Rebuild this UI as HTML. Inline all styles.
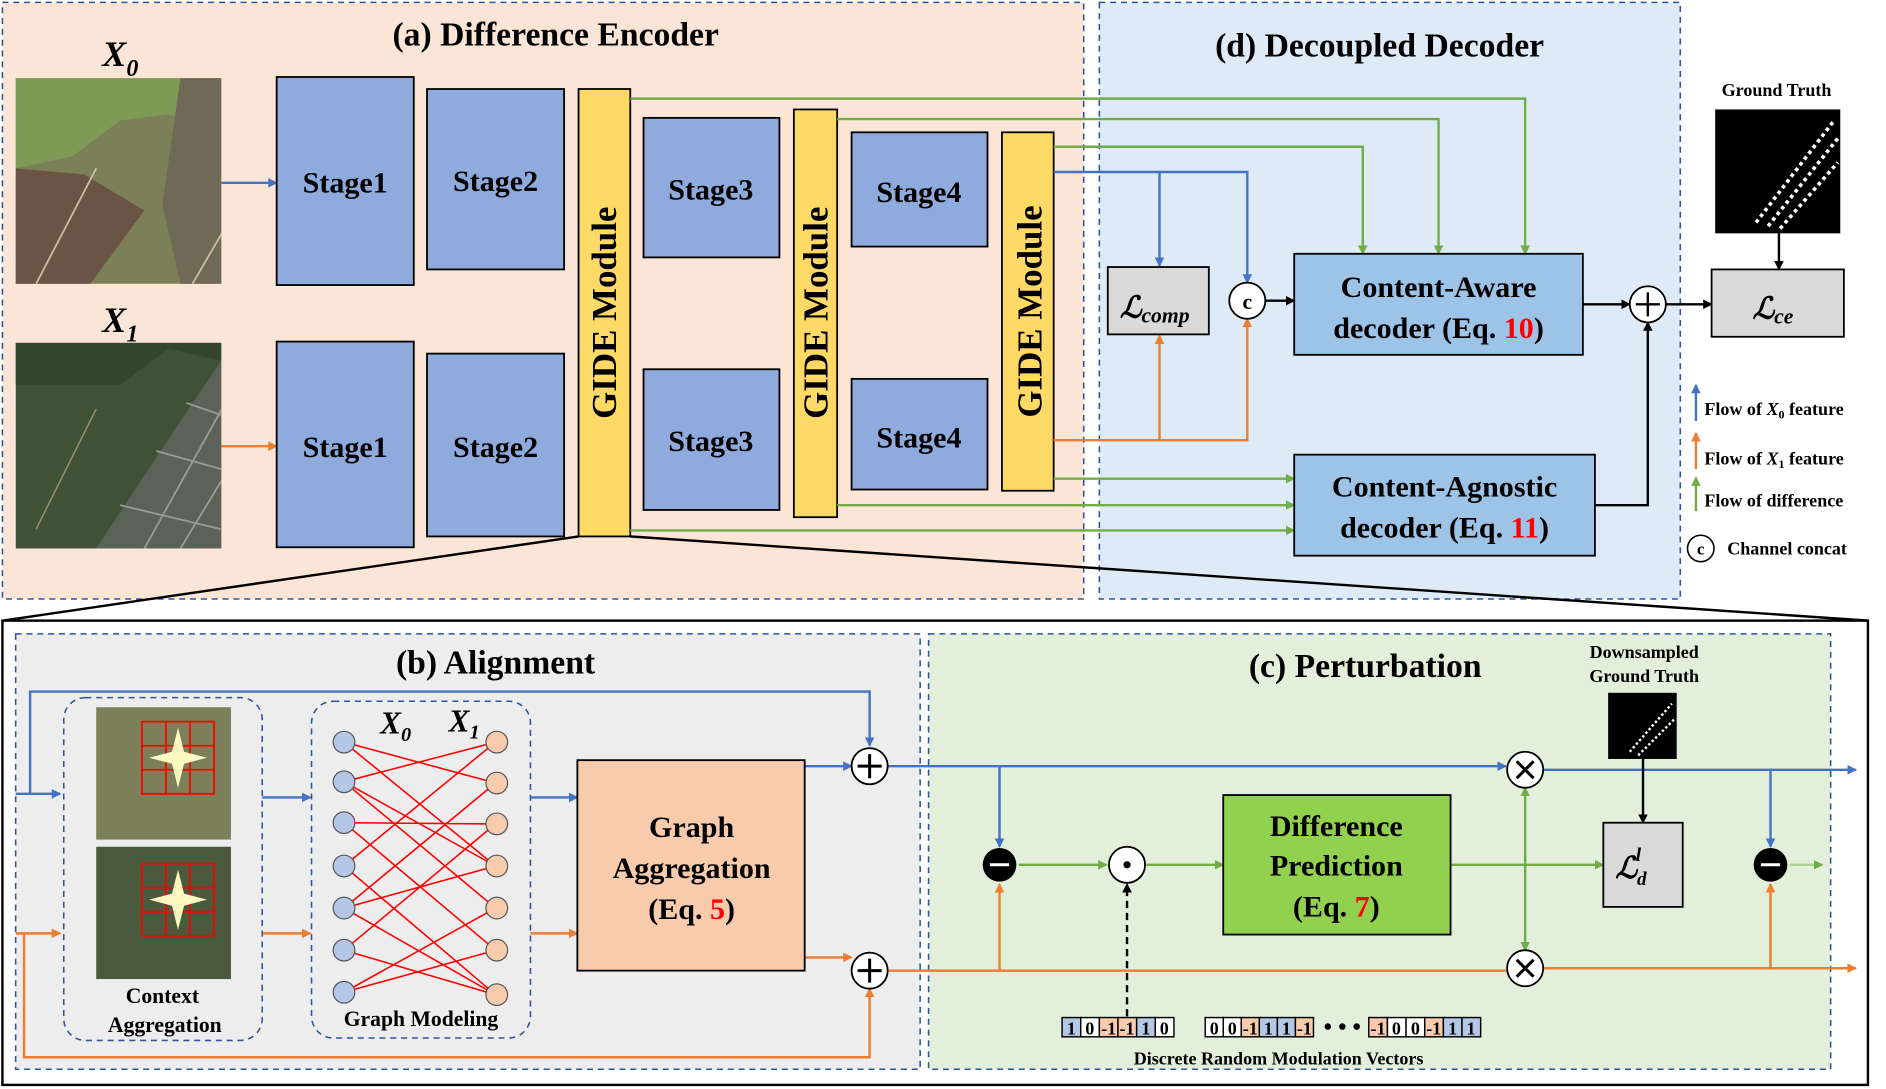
<!DOCTYPE html>
<html><head><meta charset="utf-8"><style>html,body{margin:0;padding:0;background:#fff}svg{display:block}text{font-family:"Liberation Serif",serif;font-weight:bold}</style></head>
<body>
<svg width="1886" height="1089" viewBox="0 0 1568 905.4" xmlns="http://www.w3.org/2000/svg">
<defs>
<marker id="ab" markerWidth="8" markerHeight="8" refX="7" refY="4" orient="auto" markerUnits="userSpaceOnUse"><path d="M0,0L8,4L0,8z" fill="#4472c4"/></marker>
<marker id="ao" markerWidth="8" markerHeight="8" refX="7" refY="4" orient="auto" markerUnits="userSpaceOnUse"><path d="M0,0L8,4L0,8z" fill="#ed7d31"/></marker>
<marker id="ag" markerWidth="8" markerHeight="8" refX="7" refY="4" orient="auto" markerUnits="userSpaceOnUse"><path d="M0,0L8,4L0,8z" fill="#70ad47"/></marker>
<marker id="ak" markerWidth="8" markerHeight="8" refX="7" refY="4" orient="auto" markerUnits="userSpaceOnUse"><path d="M0,0L8,4L0,8z" fill="#000"/></marker>
<clipPath id="c0"><rect x="13" y="65" width="171" height="171"/></clipPath>
<clipPath id="c1"><rect x="13" y="285" width="171" height="171"/></clipPath>
</defs>
<!-- panels -->
<rect x="2" y="2" width="899" height="496" fill="#fbe5d6" stroke="#2f5597" stroke-dasharray="5,4" stroke-width="1.3"/>
<rect x="914" y="2" width="483" height="496" fill="#deebf7" stroke="#2f5597" stroke-dasharray="5,4" stroke-width="1.3"/>
<rect x="2" y="516" width="1551" height="386" fill="#fff" stroke="#000" stroke-width="2"/>
<rect x="13" y="527" width="752" height="362" fill="#ededed" stroke="#2f5597" stroke-dasharray="5,4" stroke-width="1.3"/>
<rect x="772" y="527" width="750" height="362" fill="#e2efda" stroke="#2f5597" stroke-dasharray="5,4" stroke-width="1.3"/>
<line x1="481" y1="446" x2="2" y2="516" stroke="#000" stroke-width="2"/>
<line x1="524" y1="446" x2="1553" y2="516" stroke="#000" stroke-width="2"/>
<text x="462" y="38" font-size="28" text-anchor="middle">(a) Difference Encoder</text>
<text x="1147" y="47" font-size="28" text-anchor="middle">(d) Decoupled Decoder</text>
<text x="412" y="560" font-size="28" text-anchor="middle">(b) Alignment</text>
<text x="1135" y="563" font-size="28" text-anchor="middle">(c) Perturbation</text>
<!-- images -->
<text x="100" y="55" font-size="30" font-style="italic" text-anchor="middle">X<tspan font-size="20" dy="8">0</tspan></text>
<text x="100" y="276" font-size="30" font-style="italic" text-anchor="middle">X<tspan font-size="20" dy="8">1</tspan></text>
<g clip-path="url(#c0)">
<rect x="13" y="65" width="171" height="171" fill="#7b8058"/>
<polygon points="13,65 184,65 184,110 140,95 100,100 60,130 13,140" fill="#7f9a55"/>
<polygon points="150,65 184,65 184,236 150,236 135,170" fill="#6e6a55"/>
<polygon points="13,140 70,145 120,175 75,236 13,236" fill="#6a5446"/>
<line x1="30" y1="236" x2="80" y2="140" stroke="#c8bfa0" stroke-width="1.5"/>
<line x1="160" y1="236" x2="210" y2="150" stroke="#c8bfa0" stroke-width="1.5"/>
</g>
<g clip-path="url(#c1)">
<rect x="13" y="285" width="171" height="171" fill="#3f5235"/>
<polygon points="13,285 184,285 184,300 140,290 100,320 13,320" fill="#34462b"/>
<polygon points="184,300 184,456 80,456 150,350" fill="#5b6258"/>
<g stroke="#9a9c98" stroke-width="1.5"><line x1="120" y1="456" x2="190" y2="330"/><line x1="150" y1="456" x2="190" y2="390"/><line x1="100" y1="420" x2="184" y2="440"/><line x1="130" y1="375" x2="184" y2="390"/><line x1="155" y1="335" x2="184" y2="345"/></g>
<line x1="30" y1="440" x2="80" y2="340" stroke="#9a8e70" stroke-width="1.3"/>
</g>
<line x1="184" y1="152" x2="230" y2="152" stroke="#4472c4" stroke-width="2" marker-end="url(#ab)"/>
<line x1="184" y1="371" x2="230" y2="371" stroke="#ed7d31" stroke-width="2" marker-end="url(#ao)"/>
<!-- stages -->
<g fill="#8faadc" stroke="#000" stroke-width="1.5">
<rect x="230" y="64" width="114" height="173"/><rect x="355" y="74" width="114" height="150"/>
<rect x="230" y="284" width="114" height="171"/><rect x="355" y="294" width="114" height="152"/>
<rect x="535" y="98" width="113" height="116"/><rect x="535" y="307" width="113" height="117"/>
<rect x="708" y="110" width="113" height="95"/><rect x="708" y="315" width="113" height="92"/>
</g>
<g fill="#ffd966" stroke="#000" stroke-width="1.5">
<rect x="481" y="74" width="43" height="372"/><rect x="660" y="91" width="36" height="339"/><rect x="833" y="110" width="43" height="298"/>
</g>
<g font-size="25" text-anchor="middle">
<text x="287" y="160">Stage1</text><text x="412" y="159">Stage2</text>
<text x="287" y="380">Stage1</text><text x="412" y="380">Stage2</text>
<text x="591" y="166">Stage3</text><text x="591" y="375">Stage3</text>
<text x="764" y="168">Stage4</text><text x="764" y="372">Stage4</text>
</g>
<g font-size="29" text-anchor="middle">
<text transform="translate(512,260) rotate(-90)">GIDE Module</text>
<text transform="translate(688,260) rotate(-90)">GIDE Module</text>
<text transform="translate(866,259) rotate(-90)">GIDE Module</text>
</g>
<!-- decoder lines -->
<g fill="none" stroke-width="2">
<path d="M524,82H1268V211" stroke="#70ad47" marker-end="url(#ag)"/>
<path d="M696,99H1196V211" stroke="#70ad47" marker-end="url(#ag)"/>
<path d="M876,122H1133V211" stroke="#70ad47" marker-end="url(#ag)"/>
<path d="M876,143H1037V235" stroke="#4472c4" marker-end="url(#ab)"/>
<path d="M964,143V221" stroke="#4472c4" marker-end="url(#ab)"/>
<path d="M876,366H1037V265" stroke="#ed7d31" marker-end="url(#ao)"/>
<path d="M964,366V279" stroke="#ed7d31" marker-end="url(#ao)"/>
<path d="M876,398H1076" stroke="#70ad47" marker-end="url(#ag)"/>
<path d="M696,420H1076" stroke="#70ad47" marker-end="url(#ag)"/>
<path d="M524,441H1076" stroke="#70ad47" marker-end="url(#ag)"/>
<path d="M1052,250H1076" stroke="#000" marker-end="url(#ak)"/>
<path d="M1316,253H1355" stroke="#000" marker-end="url(#ak)"/>
<path d="M1326,420H1370V268" stroke="#000" marker-end="url(#ak)"/>
<path d="M1385,253H1423" stroke="#000" marker-end="url(#ak)"/>
<path d="M1479,194V224" stroke="#000" marker-end="url(#ak)"/>
</g>
<rect x="921" y="222" width="84" height="56" fill="#d9d9d9" stroke="#000" stroke-width="1.5"/>
<text x="960" y="264" font-size="25" font-style="italic" text-anchor="middle">ℒ<tspan font-size="18" dy="4">comp</tspan></text>
<circle cx="1037" cy="250" r="15" fill="#fff" stroke="#000" stroke-width="1.5"/>
<text x="1037" y="257" font-size="18" text-anchor="middle" font-family="Liberation Sans">c</text>
<rect x="1076" y="211" width="240" height="84" fill="#9dc3e6" stroke="#000" stroke-width="1.5"/>
<text x="1196" y="247" font-size="25" text-anchor="middle">Content-Aware</text>
<text x="1196" y="281" font-size="25" text-anchor="middle">decoder (Eq. <tspan fill="#f00">10</tspan>)</text>
<rect x="1076" y="378" width="250" height="84" fill="#9dc3e6" stroke="#000" stroke-width="1.5"/>
<text x="1201" y="413" font-size="25" text-anchor="middle">Content-Agnostic</text>
<text x="1201" y="447" font-size="25" text-anchor="middle">decoder (Eq. <tspan fill="#f00">11</tspan>)</text>
<circle cx="1370" cy="253" r="15" fill="#fff" stroke="#000" stroke-width="1.5"/>
<path d="M1360,253H1380M1370,243V263" stroke="#000" stroke-width="2"/>
<rect x="1423" y="224" width="110" height="56" fill="#d9d9d9" stroke="#000" stroke-width="1.5"/>
<text x="1474" y="265" font-size="25" font-style="italic" text-anchor="middle">ℒ<tspan font-size="18" dy="4">ce</tspan></text>
<text x="1477" y="80" font-size="15" text-anchor="middle">Ground Truth</text>
<rect x="1426" y="91" width="104" height="103" fill="#000"/>
<path d="M1460,185L1525,100M1470,188L1528,115M1480,190L1528,135" stroke="#fff" stroke-width="3" stroke-dasharray="3,3"/>
<!-- legend -->
<g font-size="15">
<line x1="1410" y1="350" x2="1410" y2="320" stroke="#4472c4" stroke-width="2" marker-end="url(#ab)"/>
<text x="1417" y="345">Flow of <tspan font-style="italic">X</tspan><tspan font-size="10" dy="3">0</tspan><tspan dy="-3"> feature</tspan></text>
<line x1="1410" y1="390" x2="1410" y2="360" stroke="#ed7d31" stroke-width="2" marker-end="url(#ao)"/>
<text x="1417" y="386">Flow of <tspan font-style="italic">X</tspan><tspan font-size="10" dy="3">1</tspan><tspan dy="-3"> feature</tspan></text>
<line x1="1410" y1="425" x2="1410" y2="397" stroke="#70ad47" stroke-width="2" marker-end="url(#ag)"/>
<text x="1417" y="421">Flow of difference</text>
<circle cx="1414" cy="456" r="11" fill="#fff" stroke="#000" stroke-width="1.3"/>
<text x="1414" y="461" font-size="14" text-anchor="middle" font-family="Liberation Sans">c</text>
<text x="1436" y="461">Channel concat</text>
</g>
<!-- (b) -->
<g fill="none" stroke-width="2">
<path d="M13,660H50" stroke="#4472c4" marker-end="url(#ab)"/>
<path d="M25,660V575H723V620" stroke="#4472c4" marker-end="url(#ab)"/>
<path d="M13,776H50" stroke="#ed7d31" marker-end="url(#ao)"/>
<path d="M20,776V879H723V822" stroke="#ed7d31" marker-end="url(#ao)"/>
<path d="M218,663H258" stroke="#4472c4" marker-end="url(#ab)"/>
<path d="M218,776H258" stroke="#ed7d31" marker-end="url(#ao)"/>
<path d="M441,663H480" stroke="#4472c4" marker-end="url(#ab)"/>
<path d="M441,776H480" stroke="#ed7d31" marker-end="url(#ao)"/>
<path d="M669,637H708" stroke="#4472c4" marker-end="url(#ab)"/>
<path d="M669,796H708" stroke="#ed7d31" marker-end="url(#ao)"/>
</g>
<rect x="53" y="580" width="165" height="285" rx="18" fill="none" stroke="#2f5597" stroke-dasharray="5,4" stroke-width="1.3"/>
<rect x="80" y="588" width="112" height="110" fill="#7b8058"/>
<rect x="80" y="704" width="112" height="110" fill="#4a5a3c"/>
<g stroke="#f00" stroke-width="1.5" fill="none">
<rect x="118" y="600" width="60" height="60"/><path d="M118,620H178M118,640H178M138,600V660M158,600V660"/>
<rect x="118" y="718" width="60" height="60"/><path d="M118,738H178M118,758H178M138,718V778M158,718V778"/>
</g>
<path d="M148,605L153,625L172,630L153,635L148,655L143,635L124,630L143,625z" fill="#fff8c0"/>
<path d="M148,723L153,743L172,748L153,753L148,773L143,753L124,748L143,743z" fill="#fff8c0"/>
<text x="135" y="834" font-size="18" text-anchor="middle">Context</text>
<text x="137" y="858" font-size="18" text-anchor="middle">Aggregation</text>
<rect x="259" y="583" width="182" height="280" rx="18" fill="none" stroke="#2f5597" stroke-dasharray="5,4" stroke-width="1.3"/>
<text x="316" y="610" font-size="26" font-style="italic" font-weight="normal" font-family="Liberation Serif">X<tspan font-size="17" dy="6">0</tspan></text>
<text x="373" y="608" font-size="26" font-style="italic" font-weight="normal" font-family="Liberation Serif">X<tspan font-size="17" dy="6">1</tspan></text>
<g stroke="#f00" stroke-width="1.3">
<path d="M286,617L412,651M286,617L412,720M286,650L412,617M286,650L412,755M286,684L412,685M286,684L412,790M286,720L412,617M286,720L412,827M286,755L412,651M286,755L412,720M286,790L412,685M286,790L412,827M286,825L412,755M286,825L412,790M286,650L412,720M286,755L412,827"/>
</g>
<g stroke="#555" stroke-width="1">
<g fill="#b4c7e7"><circle cx="286" cy="617" r="9"/><circle cx="286" cy="650" r="9"/><circle cx="286" cy="684" r="9"/><circle cx="286" cy="720" r="9"/><circle cx="286" cy="755" r="9"/><circle cx="286" cy="790" r="9"/><circle cx="286" cy="825" r="9"/></g>
<g fill="#f8cbad"><circle cx="413" cy="617" r="9"/><circle cx="413" cy="651" r="9"/><circle cx="413" cy="685" r="9"/><circle cx="413" cy="720" r="9"/><circle cx="413" cy="755" r="9"/><circle cx="413" cy="790" r="9"/><circle cx="413" cy="827" r="9"/></g>
</g>
<text x="350" y="853" font-size="18" text-anchor="middle">Graph Modeling</text>
<rect x="480" y="632" width="189" height="175" fill="#f8cbad" stroke="#000" stroke-width="1.5"/>
<text x="575" y="696" font-size="25" text-anchor="middle">Graph</text>
<text x="575" y="730" font-size="25" text-anchor="middle">Aggregation</text>
<text x="575" y="764" font-size="25" text-anchor="middle">(Eq. <tspan fill="#f00">5</tspan>)</text>
<!-- (c) lines -->
<g fill="none" stroke-width="2">
<path d="M738,637H1252" stroke="#4472c4" marker-end="url(#ab)"/>
<path d="M1283,640H1543" stroke="#4472c4" marker-end="url(#ab)"/>
<path d="M831,637V704" stroke="#4472c4" marker-end="url(#ab)"/>
<path d="M1472,640V704" stroke="#4472c4" marker-end="url(#ab)"/>
<path d="M738,807H1252" stroke="#ed7d31"/>
<path d="M1283,805H1543" stroke="#ed7d31" marker-end="url(#ao)"/>
<path d="M831,807V735" stroke="#ed7d31" marker-end="url(#ao)"/>
<path d="M1472,805V735" stroke="#ed7d31" marker-end="url(#ao)"/>
<path d="M847,719H920" stroke="#70ad47" marker-end="url(#ag)"/>
<path d="M953,719H1017" stroke="#70ad47" marker-end="url(#ag)"/>
<path d="M1206,719H1333" stroke="#70ad47" marker-end="url(#ag)"/>
<path d="M1268,719V655" stroke="#70ad47" marker-end="url(#ag)"/>
<path d="M1268,719V790" stroke="#70ad47" marker-end="url(#ag)"/>
<path d="M1488,719H1515" stroke="#a9d18e" marker-end="url(#ag)"/>
<path d="M1366,630V684" stroke="#000" marker-end="url(#ak)"/>
<path d="M937,845V735" stroke="#000" stroke-dasharray="6,4" marker-end="url(#ak)"/>
</g>
<g fill="#fff" stroke="#000" stroke-width="1.5">
<circle cx="723" cy="637" r="15"/><circle cx="723" cy="807" r="15"/>
<circle cx="937" cy="719" r="15"/>
<circle cx="1268" cy="640" r="15"/><circle cx="1268" cy="805" r="15"/>
</g>
<g stroke="#000" stroke-width="2.5">
<path d="M713,637H733M723,627V647M713,807H733M723,797V817"/>
<path d="M1261,633L1275,647M1275,633L1261,647M1261,798L1275,812M1275,798L1261,812"/>
</g>
<circle cx="831" cy="719" r="14" fill="#000"/><path d="M823,719H839" stroke="#fff" stroke-width="2.5"/>
<circle cx="1472" cy="719" r="14" fill="#000"/><path d="M1464,719H1480" stroke="#fff" stroke-width="2.5"/>
<circle cx="937" cy="719" r="3" fill="#000"/>
<rect x="1017" y="661" width="189" height="116" fill="#92d050" stroke="#000" stroke-width="1.5"/>
<text x="1111" y="695" font-size="25" text-anchor="middle">Difference</text>
<text x="1111" y="728" font-size="25" text-anchor="middle">Prediction</text>
<text x="1111" y="762" font-size="25" text-anchor="middle">(Eq. <tspan fill="#f00">7</tspan>)</text>
<rect x="1333" y="684" width="66" height="70" fill="#d9d9d9" stroke="#000" stroke-width="1.5"/>
<text x="1356" y="730" font-size="25" font-style="italic" text-anchor="middle">ℒ<tspan font-size="16" dy="6">d</tspan><tspan font-size="16" dx="-9" dy="-20">l</tspan></text>
<text x="1367" y="547" font-size="15" text-anchor="middle">Downsampled</text>
<text x="1367" y="567" font-size="15" text-anchor="middle">Ground Truth</text>
<rect x="1337" y="576" width="57" height="55" fill="#000"/>
<path d="M1355,625L1390,585M1362,628L1392,598" stroke="#fff" stroke-width="2" stroke-dasharray="2,2"/>
<!-- vectors -->
<g font-size="15" text-anchor="middle" stroke-width="1.2">
<g transform="translate(883,846)">
<rect x="0" width="15.5" height="16" fill="#b4c7e7" stroke="#000"/><rect x="15.5" width="15.5" height="16" fill="#fff" stroke="#000"/><rect x="31" width="15.5" height="16" fill="#f8cbad" stroke="#000"/><rect x="46.5" width="15.5" height="16" fill="#f8cbad" stroke="#000"/><rect x="62" width="15.5" height="16" fill="#b4c7e7" stroke="#000"/><rect x="77.5" width="15.5" height="16" fill="#fff" stroke="#000"/>
<text x="7.7" y="14">1</text><text x="23" y="14">0</text><text x="38.7" y="14">-1</text><text x="54" y="14">-1</text><text x="69.7" y="14">1</text><text x="85" y="14">0</text></g>
<g transform="translate(1002,846)">
<rect x="0" width="15" height="16" fill="#fff" stroke="#000"/><rect x="15" width="15" height="16" fill="#fff" stroke="#000"/><rect x="30" width="15" height="16" fill="#f8cbad" stroke="#000"/><rect x="45" width="15" height="16" fill="#b4c7e7" stroke="#000"/><rect x="60" width="15" height="16" fill="#b4c7e7" stroke="#000"/><rect x="75" width="15" height="16" fill="#f8cbad" stroke="#000"/>
<text x="7.5" y="14">0</text><text x="22.5" y="14">0</text><text x="37.5" y="14">-1</text><text x="52.5" y="14">1</text><text x="67.5" y="14">1</text><text x="82.5" y="14">-1</text></g>
<text x="1116" y="860" font-size="20">• • •</text>
<g transform="translate(1138,846)">
<rect x="0" width="15.5" height="16" fill="#f8cbad" stroke="#000"/><rect x="15.5" width="15.5" height="16" fill="#fff" stroke="#000"/><rect x="31" width="15.5" height="16" fill="#fff" stroke="#000"/><rect x="46.5" width="15.5" height="16" fill="#f8cbad" stroke="#000"/><rect x="62" width="15.5" height="16" fill="#b4c7e7" stroke="#000"/><rect x="77.5" width="15.5" height="16" fill="#b4c7e7" stroke="#000"/>
<text x="7.7" y="14">-1</text><text x="23" y="14">0</text><text x="38.7" y="14">0</text><text x="54" y="14">-1</text><text x="69.7" y="14">1</text><text x="85" y="14">1</text></g>
</g>
<text x="1063" y="885" font-size="15" text-anchor="middle">Discrete Random Modulation Vectors</text>
</svg>
</body></html>
